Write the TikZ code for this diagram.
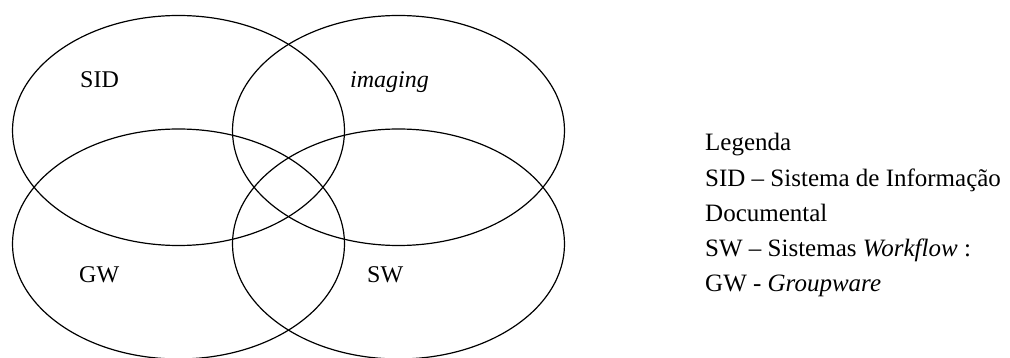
\documentclass[tikz,border=0pt]{standalone}
\usepackage{fontspec}
\setmainfont{Liberation Serif}
\usetikzlibrary{shapes.geometric}
\begin{document}
\begin{tikzpicture}[x=1pt,y=-1pt,
  venn/.style={draw, ellipse, line width=1.2pt, minimum width=332pt, minimum height=230pt, inner sep=0pt},
  lbl/.style={anchor=base west, inner sep=0pt, font=\fontsize{24}{28}\selectfont},
  leg/.style={anchor=base west, inner sep=0pt, font=\fontsize{25}{30}\selectfont}]
\useasboundingbox (0,0) rectangle (1010,358);
\node[venn] (sidE) at (178.5,130.5) {};
\node[venn] (imgE) at (398.5,130.5) {};
\node[venn] (gwE) at (178.5,244) {};
\node[venn] (swE) at (398.5,244) {};
\node[lbl] (sid) at (80,88) {SID};
\node[lbl] (img) at (350,88) {\textit{imaging}};
\node[lbl] (gw) at (79,283) {GW};
\node[lbl] (sw) at (367,283) {SW};
\node[leg] (l1) at (705,151) {Legenda};
\node[leg] (l2) at (705,186.25) {SID – Sistema de Informação};
\node[leg] (l3) at (705,221.5) {Documental};
\node[leg] (l4) at (705,256.75) {SW – Sistemas \textit{Workflow} :};
\node[leg] (l5) at (705,292) {GW - \textit{Groupware}};
\end{tikzpicture}
\end{document}
